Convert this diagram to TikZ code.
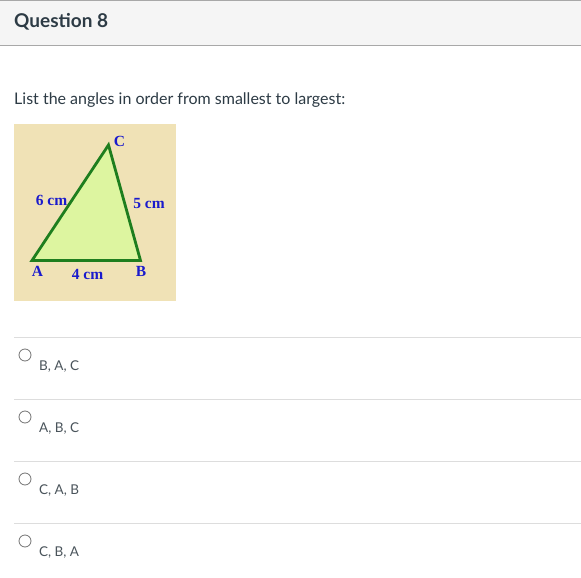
\documentclass[tikz,border=0pt]{standalone}
\usepackage{fontspec}
\setmainfont{Lato}
\newfontfamily\trifont{Liberation Serif}
\definecolor{hdrbg}{HTML}{F5F5F5}
\definecolor{hdrline}{HTML}{A8A8A8}
\definecolor{sepline}{HTML}{DDDDDD}
\definecolor{txt}{HTML}{2D3B45}
\definecolor{opttxt}{HTML}{4A545B}
\definecolor{beige}{HTML}{F0E2B6}
\definecolor{trifill}{HTML}{DDF5A0}
\definecolor{tristroke}{HTML}{1E7E1E}
\definecolor{lblblue}{HTML}{1A1ACC}
\begin{document}
\begin{tikzpicture}[x=1pt,y=-1pt,
  lbl/.style={font=\trifont\bfseries\fontsize{15.5}{15.5}\selectfont, text=lblblue, inner sep=0pt},
  opt/.style={font=\fontsize{13.5}{13.5}\selectfont, text=opttxt, anchor=west, inner sep=0pt},
  radio/.style={circle, draw=black!55, line width=0.8pt, minimum size=12pt, inner sep=0pt},
  sep/.style={draw=sepline, line width=1pt}]
\useasboundingbox (0,0) rectangle (581,578);
\fill[white] (0,0) rectangle (581,578);
% header
\fill[hdrbg] (0,1) rectangle (581,46);
\draw[hdrline, line width=1pt] (0,1) -- (581,1);
\draw[hdrline, line width=1pt] (0,46) -- (581,46);
\node[anchor=west, inner sep=0pt, text=txt, font=\bfseries\fontsize{19}{19}\selectfont] (title) at (14,22) {Question 8};
\node[anchor=west, inner sep=0pt, text=txt, font=\fontsize{16}{16}\selectfont] (prompt) at (14,100) {List the angles in order from smallest to largest:};
% picture
\fill[beige] (14,124) rectangle (176,301);
\coordinate (A) at (32,260.5);
\coordinate (B) at (140.5,260.5);
\coordinate (C) at (108.5,145);
\draw[fill=trifill, draw=tristroke, line width=2.8pt, line join=miter] (A) -- (B) -- (C) -- cycle;
\node[lbl] (lc) at (119.5,141) {C};
\node[lbl] (l6) at (51.5,200) {6 cm};
\node[lbl] (l5) at (149,203.5) {5 cm};
\node[lbl] (la) at (37.5,271) {A};
\node[lbl] (l4) at (87.5,274.5) {4 cm};
\node[lbl] (lb) at (141,271) {B};
% options
\draw[sep] (14,337) -- (581,337);
\draw[sep] (14,399) -- (581,399);
\draw[sep] (14,461) -- (581,461);
\draw[sep] (14,523) -- (581,523);
\node[radio] (r1) at (25,355) {};
\node[opt] (o1) at (39,366.5) {B, A, C};
\node[radio] (r2) at (25,417) {};
\node[opt] (o2) at (39,428.5) {A, B, C};
\node[radio] (r3) at (25,479) {};
\node[opt] (o3) at (39,490.5) {C, A, B};
\node[radio] (r4) at (25,541) {};
\node[opt] (o4) at (39,552.5) {C, B, A};
\end{tikzpicture}
\end{document}
